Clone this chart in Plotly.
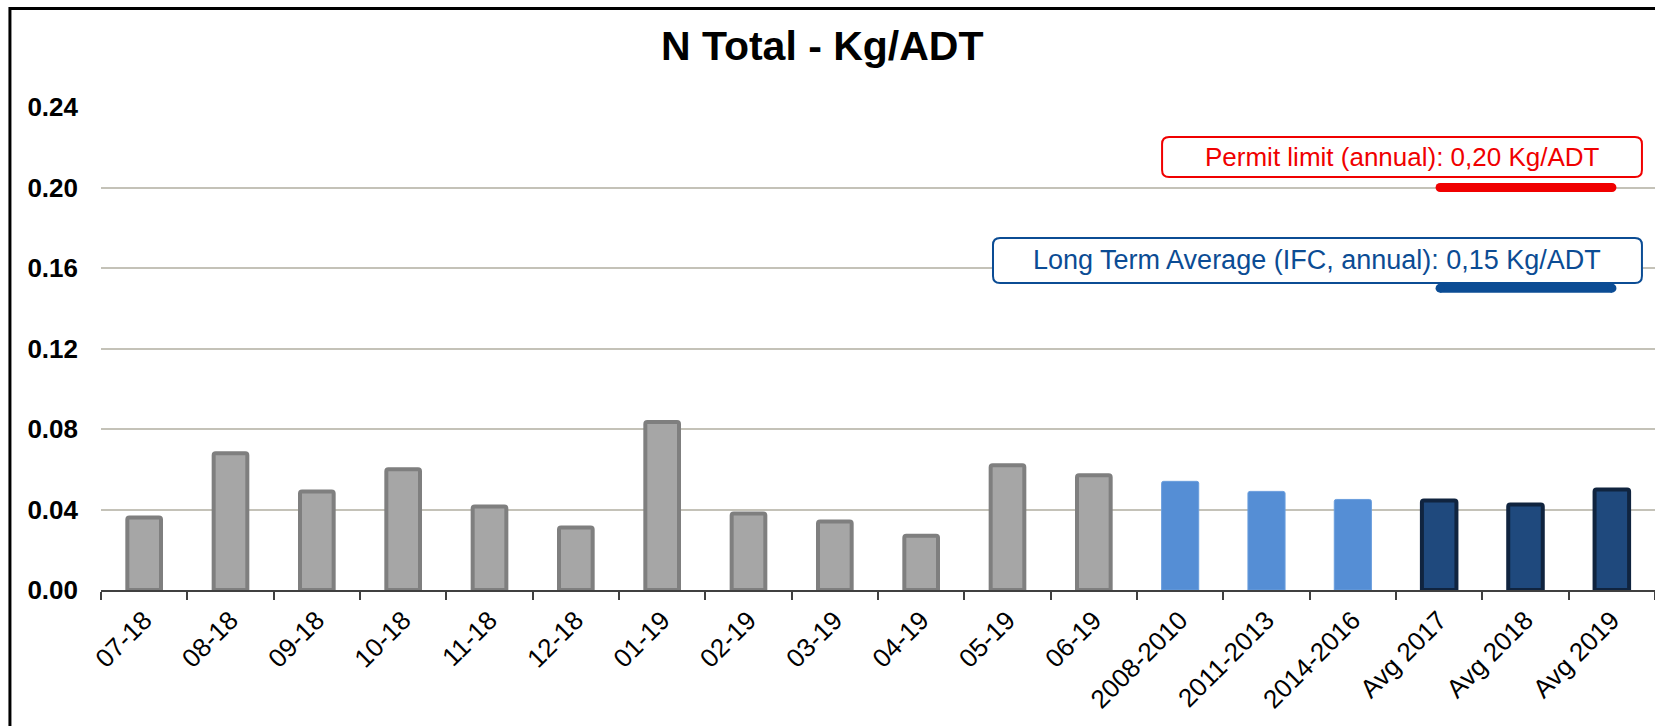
import plotly.graph_objects as go

# ---- data ----
months = ["07-18", "08-18", "09-18", "10-18", "11-18", "12-18",
          "01-19", "02-19", "03-19", "04-19", "05-19", "06-19"]
monthly_vals = [0.036, 0.068, 0.049, 0.060, 0.0415, 0.031,
                0.0835, 0.038, 0.034, 0.027, 0.062, 0.057]
periods = ["2008-2010", "2011-2013", "2014-2016"]
period_vals = [0.054, 0.049, 0.045]
years = ["Avg 2017", "Avg 2018", "Avg 2019"]
year_vals = [0.0445, 0.0425, 0.050]
permit_limit = 0.20
long_term_avg = 0.15
permit_text = "Permit limit (annual): 0,20 Kg/ADT"
lta_text = "Long Term Average (IFC, annual): 0,15 Kg/ADT"
y_ticks = [0.00, 0.04, 0.08, 0.12, 0.16, 0.20, 0.24]
title_text = "N Total - Kg/ADT"

categories = months + periods + years
FONT = "Liberation Sans, Arial, sans-serif"
RED = "#F00000"
BLUE = "#0B4C94"
PLOT_W, PLOT_H = 1554, 483  # plot area size in px (for rounded-corner radii)

fig = go.Figure()
fig.add_trace(go.Bar(x=months, y=monthly_vals, width=0.39,
                     marker=dict(color="#A6A6A6", line=dict(color="#7F7F7F", width=4)),
                     showlegend=False))
fig.add_trace(go.Bar(x=periods, y=period_vals, width=0.43,
                     marker=dict(color="#558ED5", line=dict(color="#6A9EDD", width=1)),
                     showlegend=False))
fig.add_trace(go.Bar(x=years, y=year_vals, width=0.40,
                     marker=dict(color="#1F497D", line=dict(color="#10243F", width=4)),
                     showlegend=False))

# limit lines (thick, rounded ends)
LX0, LX1 = 0.8617, 0.9723
for val, col in [(permit_limit, RED), (long_term_avg, BLUE)]:
    fig.add_shape(type="line", xref="paper", yref="y", x0=LX0, x1=LX1,
                  y0=val, y1=val, line=dict(color=col, width=9), layer="above")
    for xa in (LX0, LX1):
        fig.add_shape(type="circle", xref="paper", yref="y",
                      xsizemode="pixel", ysizemode="pixel",
                      xanchor=xa, yanchor=val, x0=-4.5, x1=4.5, y0=-4.5, y1=4.5,
                      fillcolor=col, line=dict(width=0), layer="above")


def rounded_box(x0, x1, y0, y1, color, r=7):
    rx, ry = r / PLOT_W, r / PLOT_H
    path = (f"M {x0+rx},{y0} L {x1-rx},{y0} Q {x1},{y0} {x1},{y0+ry} "
            f"L {x1},{y1-ry} Q {x1},{y1} {x1-rx},{y1} "
            f"L {x0+rx},{y1} Q {x0},{y1} {x0},{y1-ry} "
            f"L {x0},{y0+ry} Q {x0},{y0} {x0+rx},{y0} Z")
    fig.add_shape(type="path", xref="paper", yref="paper", path=path,
                  fillcolor="white", line=dict(color=color, width=2), layer="above")


rounded_box(0.6828, 0.9916, 0.8551, 0.9379, RED)
rounded_box(0.5740, 0.9916, 0.6356, 0.7288, BLUE)

# outer frame
fig.add_shape(type="rect", xref="paper", yref="paper",
              x0=-0.0586, x1=1.05, y0=-0.4, y1=1.204,
              line=dict(color="#000000", width=3))

fig.add_annotation(xref="paper", yref="paper", x=0.8372, y=0.8965,
                   xanchor="center", yanchor="middle",
                   text=permit_text, showarrow=False,
                   font=dict(family=FONT, size=26, color=RED))
fig.add_annotation(xref="paper", yref="paper", x=0.7828, y=0.6822,
                   xanchor="center", yanchor="middle",
                   text=lta_text, showarrow=False,
                   font=dict(family=FONT, size=27, color=BLUE))

fig.update_layout(
    width=1655, height=726,
    margin=dict(l=101, r=0, t=107, b=136),
    paper_bgcolor="white", plot_bgcolor="white",
    barmode="overlay", bargap=0.5,
    barcornerradius=2,
    title=dict(text=title_text, x=0.4968, xref="container", xanchor="center",
               y=0.9366, yref="container", yanchor="middle",
               font=dict(family=FONT, size=41, color="#000000", weight="bold")),
    font=dict(family=FONT, color="#000000"),
)
fig.update_xaxes(type="category", categoryorder="array", categoryarray=categories,
                 range=[-0.5, len(categories) - 0.5],
                 tickangle=-45, tickfont=dict(family=FONT, size=26, color="#000000"),
                 showline=True, linecolor="#404040", linewidth=1.5,
                 ticks="outside", ticklen=8, tickwidth=1.5, tickcolor="#404040",
                 tickson="boundaries", showgrid=False, zeroline=False,
                 ticklabelstandoff=3)
fig.update_yaxes(range=[0, 0.24], tickvals=y_ticks, tickformat=".2f",
                 tickfont=dict(family=FONT, size=26, color="#000000", weight="bold"),
                 showgrid=True, gridcolor="#C4C2B8", gridwidth=1.5,
                 zeroline=False, showline=False, ticks="", ticklabelstandoff=22)

fig.write_html("out.html", config={"displayModeBar": False},
               post_script="document.body.style.margin='0';")
